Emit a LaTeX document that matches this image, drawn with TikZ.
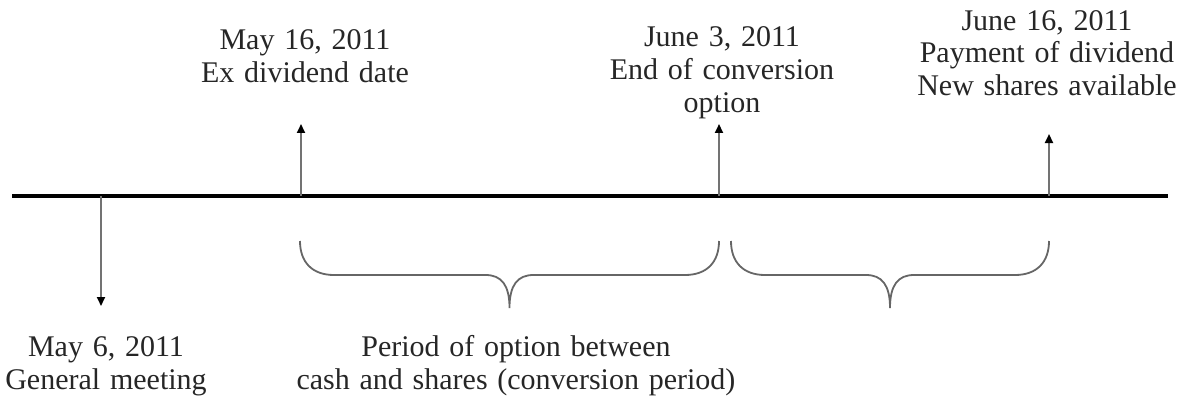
\documentclass[tikz,border=0pt]{standalone}
\usepackage{fontspec}
\setmainfont[WordSpace=1.3]{Liberation Serif}
\usetikzlibrary{arrows.meta}
\def\period(#1,#2){\pgfmathsetmacro\xm{(#1+#2)/2}
	\draw[brace line] (#1,241) .. controls (#1,262) and (#1+12,275) .. (#1+34,275) -- (\xm-24,275) .. controls (\xm-8,275) and (\xm,285) .. (\xm,308) .. controls (\xm,285) and (\xm+8,275) .. (\xm+24,275) -- (#2-34,275) .. controls (#2-12,275) and (#2,262) .. (#2,241);}

\begin{document}
\begin{tikzpicture}[x=1pt,y=-1pt,
	date/.style={align=center, anchor=base, font=\fontsize{30}{33}\selectfont, text=black!85, inner sep=0pt},
	tick/.style={line width=2pt, color=black!55, -{Triangle[length=9pt,width=8pt,color=black]}},
	brace line/.style={line width=1.8pt, color=black!60}]
		%%%%% START %%%%%
		\useasboundingbox (0,0) rectangle (1180,401);
		
		\draw[line width=4.5pt] (12,196) -- (1168,196);
		
		\coordinate (meeting) at (101,196);
		\coordinate (exdate) at (301,196);
		\coordinate (endconv) at (719,196);
		\coordinate (payment) at (1049,196);
		
		\node[date] (meetingtxt) at (106,389) {May 6, 2011\\General meeting};
		\node[date] (exdatetxt) at (305,83) {May 16, 2011\\Ex dividend date};
		\node[date] (endconvtxt) at (722,113) {June 3, 2011\\End of conversion\\option};
		\node[date] (paymenttxt) at (1047,96) {June 16, 2011\\Payment of dividend\\New shares available};
		\node[date] (periodtxt) at (516,389) {Period of option between\\cash and shares (conversion period)};
		
		\draw[tick] (meeting) -- ++(0,110);
		\draw[tick] (exdate) -- ++(0,-72);
		\draw[tick] (endconv) -- ++(0,-72);
		\draw[tick] (payment) -- ++(0,-62);
		
		\period(300,719)
		\period(731,1049)
		%%%%% END %%%%%
\end{tikzpicture}
\end{document}
